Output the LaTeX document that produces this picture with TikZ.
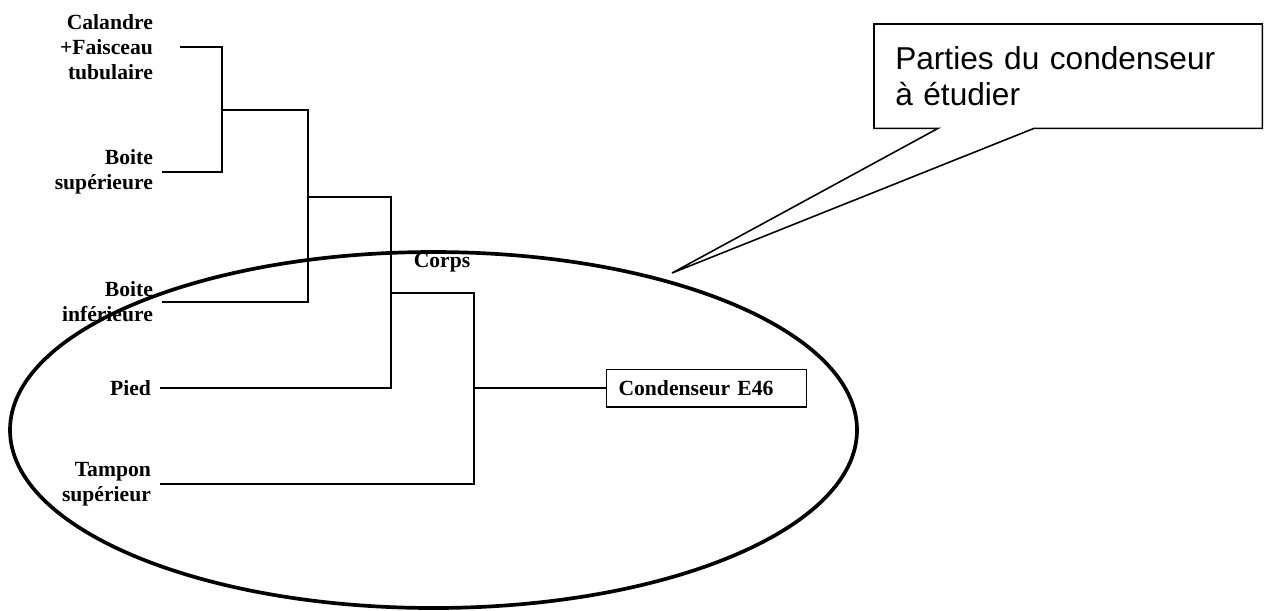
\documentclass[tikz,border=0pt]{standalone}
\usepackage{fontspec}
\setmainfont{Liberation Serif}
\newfontfamily\notefont{Liberation Sans}
\usetikzlibrary{positioning,calc}

\begin{document}
\begin{tikzpicture}[x=0.02cm,y=-0.02cm,
  part/.style={font=\fontsize{12.3}{14.2}\selectfont\bfseries, align=right, anchor=east, inner xsep=5pt, inner ysep=0pt},
  link/.style={line width=0.9pt},
  whole/.style={draw, line width=0.7pt, font=\fontsize{12.3}{14.2}\selectfont\bfseries, text width=100pt, align=left, inner xsep=6.8pt, minimum height=21.5pt, anchor=west},
  note/.style={font=\notefont\fontsize{18}{20.5}\selectfont, text width=196.8pt, align=left, inner xsep=11.9pt, minimum height=59pt, anchor=north west},
  callout/.style={line width=0.9pt},
  ring/.style={line width=2.1pt}]
\useasboundingbox (0,0) rectangle (1266,610);
\node[part] (cal) at (162,47) {Calandre\\+Faisceau\\tubulaire};
\node[part] (bsup) at (162,172) {Boite\\supérieure};
\node[part] (binf) at (162,302) {Boite\\inférieure};
\node[part] (pied) at (160,388) {Pied};
\node[part] (tampon) at (160,484) {Tampon\\supérieur};
\node[part, anchor=center, inner sep=0pt] (corps) at (442,263) {Corps};
\node[whole] (cond) at (606,388) {Condenseur E46};
\coordinate (k1) at (222,110);
\coordinate (k2) at (308,197);
\coordinate (k3) at (391,293);
\coordinate (k4) at (474,388);
\draw[link] ([xshift=10.5pt]cal.east) -| (k1) |- (bsup.east);
\draw[link] (k1) -| (k2) |- (binf.east);
\draw[link] (k2) -| (k3) |- (pied.east);
\draw[link] (k3) -| (k4) |- (tampon.east);
\draw[link] (k4) -- (cond.west);
\draw[ring] (433.5,430) ellipse [x radius=423.5, y radius=178];
\node[note] (note) at (874,24) {Parties du condenseur\\à étudier};
\coordinate (tip) at (672,273);
\draw[callout] (note.north west) -- (note.north east) -- (note.south east)
  -- ($(note.south west)+(160,0)$) -- (tip) -- ($(note.south west)+(64,0)$)
  -- (note.south west) -- cycle;
\end{tikzpicture}
\end{document}
